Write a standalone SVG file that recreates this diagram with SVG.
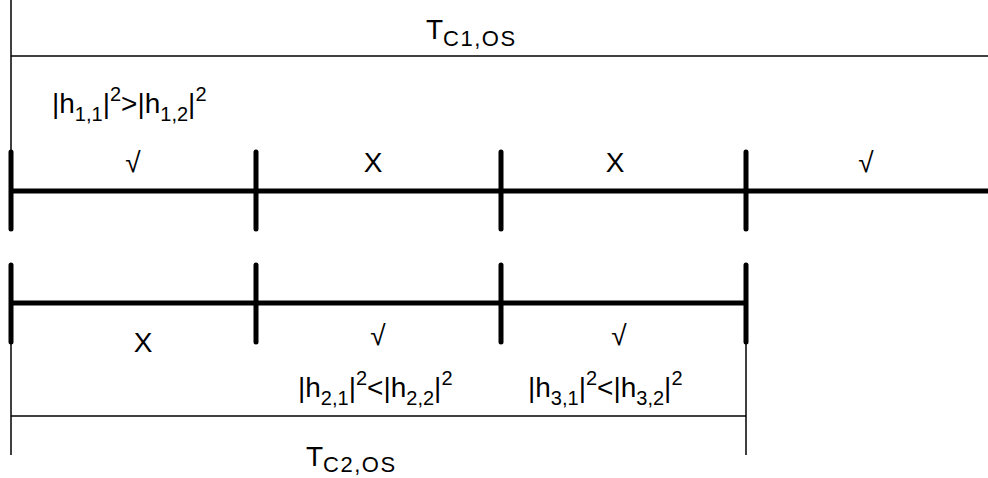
<svg xmlns="http://www.w3.org/2000/svg" width="988" height="478" viewBox="0 0 988 478">
<style>
.thin{stroke:#000;stroke-width:1.5;fill:none}
.thick{stroke:#000;stroke-width:5;fill:none;stroke-linecap:round}
.axis{stroke:#000;stroke-width:5;fill:none}
text{font-family:"Liberation Sans",Arial,sans-serif;font-size:28px;fill:#000}
.s{font-size:20px}
.t{font-size:22px;letter-spacing:1.5px}
.c{text-anchor:middle}
</style>
<rect width="988" height="478" fill="#fff"/>
<g id="connectors">
<line class="thin" x1="11" y1="0" x2="11" y2="152"/>
<line class="thin" x1="11" y1="56" x2="988" y2="56"/>
<line class="axis" x1="11" y1="191" x2="988" y2="191"/>
<line class="thick" x1="11" y1="152" x2="11" y2="229"/>
<line class="thick" x1="256" y1="152" x2="256" y2="229"/>
<line class="thick" x1="501" y1="152" x2="501" y2="229"/>
<line class="thick" x1="746" y1="152" x2="746" y2="229"/>
<line class="axis" x1="11" y1="303" x2="746" y2="303"/>
<line class="thick" x1="11" y1="265" x2="11" y2="342"/>
<line class="thick" x1="256" y1="265" x2="256" y2="342"/>
<line class="thick" x1="501" y1="265" x2="501" y2="342"/>
<line class="thick" x1="746" y1="265" x2="746" y2="342"/>
<line class="thin" x1="11" y1="342" x2="11" y2="455"/>
<line class="thin" x1="746" y1="342" x2="746" y2="455"/>
<line class="thin" x1="11" y1="416" x2="746" y2="416"/>
</g>
<g id="tc1">
<text x="426" y="39">T<tspan class="t" dy="7">C1,OS</tspan></text>
</g>
<g id="cond1">
<text x="52" y="113">|h<tspan class="s" dy="8">1,1</tspan><tspan dy="-8">|</tspan><tspan class="s" dy="-12">2</tspan><tspan dy="12">&gt;|h</tspan><tspan class="s" dy="8">1,2</tspan><tspan dy="-8">|</tspan><tspan class="s" dy="-12">2</tspan></text>
</g>
<g id="top-labels">
<text class="c" x="133" y="172">√</text>
<text class="c" x="373" y="172">X</text>
<text class="c" x="615" y="172">X</text>
<text class="c" x="866" y="172">√</text>
</g>
<g id="bottom-labels">
<text class="c" x="143" y="352">X</text>
<text class="c" x="378" y="345">√</text>
<text class="c" x="619" y="345">√</text>
</g>
<g id="cond2">
<text x="298" y="397">|h<tspan class="s" dy="8">2,1</tspan><tspan dy="-8">|</tspan><tspan class="s" dy="-12">2</tspan><tspan dy="12">&lt;|h</tspan><tspan class="s" dy="8">2,2</tspan><tspan dy="-8">|</tspan><tspan class="s" dy="-12">2</tspan></text>
</g>
<g id="cond3">
<text x="528" y="397">|h<tspan class="s" dy="8">3,1</tspan><tspan dy="-8">|</tspan><tspan class="s" dy="-12">2</tspan><tspan dy="12">&lt;|h</tspan><tspan class="s" dy="8">3,2</tspan><tspan dy="-8">|</tspan><tspan class="s" dy="-12">2</tspan></text>
</g>
<g id="tc2">
<text x="306" y="466">T<tspan class="t" dy="6">C2,OS</tspan></text>
</g>
</svg>
